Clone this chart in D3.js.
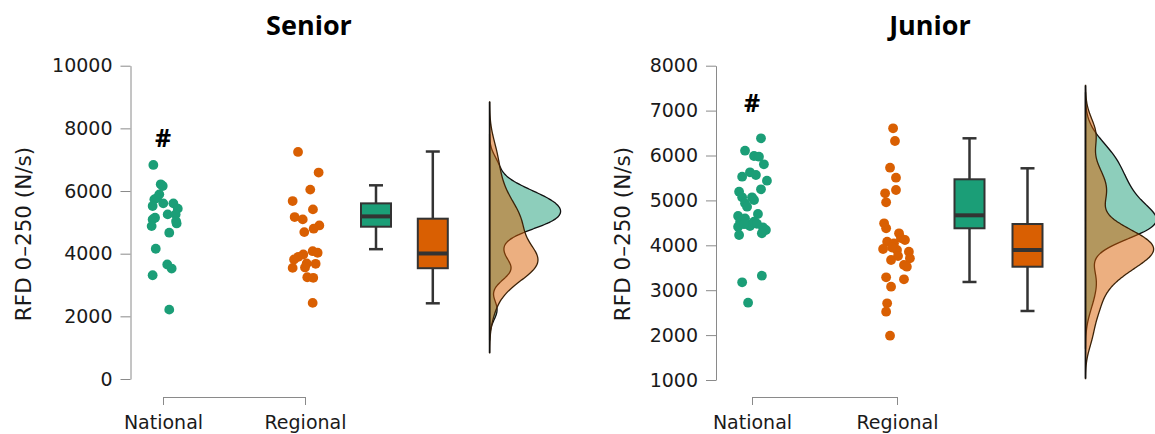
<!DOCTYPE html>
<html>
<head>
<meta charset="utf-8">
<script src="https://cdn.jsdelivr.net/npm/d3@7"></script>
<style>
  body { margin: 0; background: #fff; }
  text { font-family: "DejaVu Sans", sans-serif; }
</style>
</head>
<body>
<div id="chart"></div>
<script>
// SVG area
var svgWidth = 1155;
var svgHeight = 434;

var groups = ["National", "Regional"];
var colors = ["#1b9e77", "#d95f02"];

// Senior - RFD 0-250 (N/s) per athlete, with horizontal jitter (category units)
var seniorNational = [6832, 6214, 6160, 5894, 5734, 5780, 5606, 5606, 5520, 5437, 5254, 5254,
  5149, 5094, 4966, 4880, 4669, 4157, 3654, 3526, 3312, 2214, 5040];
var seniorNationalJitter = [-0.068, -0.016, -0.002, -0.026, -0.061, -0.042, 0.002, 0.073, -0.073, 0.104, 0.033, 0.089,
  -0.056, -0.073, 0.096, -0.080, 0.044, -0.051, 0.030, 0.061, -0.073, 0.044, 0.092];
var seniorRegional = [7248, 6589, 6045, 5680, 5414, 5168, 5094, 4902, 4797, 4688, 4080,
  4029, 3974, 3901, 3814, 3686, 3677, 3546, 3560, 3248, 3229, 2429];
var seniorRegionalJitter = [-0.049, 0.096, 0.037, -0.087, 0.056, -0.073, -0.016, 0.101, 0.061, -0.005, 0.054,
  0.089, -0.012, -0.047, -0.077, 0.012, 0.075, -0.087, 0.000, 0.016, 0.058, 0.054];

// Junior
var juniorNational = [6383, 6107, 5989, 5973, 5804, 5626, 5566, 5528, 5439, 5247, 5194, 5069, 5069,
  5009, 4935, 4860, 4697, 4653, 4526, 4474, 4430, 4526, 4414, 4401, 4341, 4229, 4267,
  3323, 3176, 2722, 4600, 4480, 4470];
var juniorNationalJitter = [0.062, -0.048, 0.014, 0.048, 0.082, -0.014, 0.027, -0.068, 0.103, 0.062, -0.089, -0.068, 0.000,
  0.014, -0.048, -0.034, 0.041, -0.096, -0.082, -0.034, -0.014, 0.014, -0.096, 0.075, 0.096, -0.089, 0.068,
  0.068, -0.068, -0.027, -0.048, 0.034, -0.055];
var juniorRegional = [6606, 6323, 5728, 5506, 5232, 5158, 4958, 4490, 4379, 4267, 4118, 4080, 4045, 3918,
  3895, 3857, 3710, 3673, 3760, 3561, 3523, 3287, 3078, 3243, 2708, 2521, 1987, 3950, 4160];
var juniorRegionalJitter = [-0.027, -0.014, -0.048, -0.007, -0.007, -0.082, -0.075, -0.089, -0.075, 0.014, 0.055, -0.068, -0.021, -0.096,
  0.000, 0.082, 0.089, -0.041, 0.007, 0.048, 0.068, -0.075, -0.041, 0.048, -0.068, -0.075, -0.048, -0.034, 0.027];

// Box plot stats: [lower whisker, Q1, median, Q3, upper whisker]
var seniorBoxNational = [4144, 4861, 5190, 5606, 6182];
var seniorBoxRegional = [2416, 3536, 4006, 5117, 7261];
var juniorBoxNational = [3183, 4379, 4668, 5470, 6383];
var juniorBoxRegional = [2537, 3523, 3895, 4474, 5715];

var seniorTicks = [0, 2000, 4000, 6000, 8000, 10000];
var juniorTicks = [1000, 2000, 3000, 4000, 5000, 6000, 7000, 8000];

var yTitle = "RFD 0\u2013250 (N/s)";

var panels = [
  {
    title: "Senior", titleX: 309,
    axisX: 130.5, yTitleX: 23,
    xRange: [163, 305],
    yDomain: [0, 10000], yRange: [379, 65.7], ticks: seniorTicks,
    series: [[seniorNational, seniorNationalJitter], [seniorRegional, seniorRegionalJitter]],
    boxes: [seniorBoxNational, seniorBoxRegional],
    mark: 7700
  },
  {
    title: "Junior", titleX: 930,
    axisX: 716, yTitleX: 622,
    xRange: [752, 897],
    yDomain: [1000, 8000], yRange: [380, 65.7], ticks: juniorTicks,
    series: [[juniorNational, juniorNationalJitter], [juniorRegional, juniorRegionalJitter]],
    boxes: [juniorBoxNational, juniorBoxRegional],
    mark: 7170
  }
];

// slot positions (category units) for boxes and half violin
var boxSlots = [1.5, 1.9];
var violinSlot = 2.3;
var boxWidth = 30;
var capWidth = 14;
var violinMaxWidth = 71;

var svg = d3.select("#chart")
  .append("svg")
  .attr("width", svgWidth)
  .attr("height", svgHeight);

// R style bw.nrd0
function bandwidth(values) {
  var s = values.slice().sort(d3.ascending);
  var sd = d3.deviation(s);
  var iqr = d3.quantile(s, 0.75) - d3.quantile(s, 0.25);
  var lo = Math.min(sd, iqr / 1.34);
  return 0.9 * lo * Math.pow(s.length, -0.2);
}

function kde(values) {
  var bw = bandwidth(values);
  var lo = d3.min(values) - 3 * bw;
  var hi = d3.max(values) + 3 * bw;
  var n = 256;
  var out = [];
  for (var i = 0; i <= n; i++) {
    var t = lo + (hi - lo) * i / n;
    var sum = 0;
    values.forEach(function(v) {
      var z = (t - v) / bw;
      sum += Math.exp(-0.5 * z * z);
    });
    out.push([t, sum / (values.length * bw * Math.sqrt(2 * Math.PI))]);
  }
  return out;
}

panels.forEach(function(p) {
  var g = svg.append("g");

  var x = d3.scaleLinear().domain([0, 1]).range(p.xRange);
  var y = d3.scaleLinear().domain(p.yDomain).range(p.yRange);

  // title
  g.append("text")
    .attr("x", p.titleX)
    .attr("y", 35)
    .attr("text-anchor", "middle")
    .style("font-family", "'Open Sans', sans-serif")
    .style("font-weight", "bold")
    .style("font-size", "27px")
    .attr("fill", "#000")
    .text(p.title);

  // y axis
  var leftAxis = d3.axisLeft(y)
    .tickValues(p.ticks)
    .tickFormat(d3.format("d"))
    .tickSize(10)
    .tickSizeOuter(0)
    .tickPadding(8);
  var ya = g.append("g")
    .attr("transform", `translate(${p.axisX}, 0)`)
    .call(leftAxis);
  ya.select(".domain").attr("stroke", "#8a8a8a");
  ya.selectAll(".tick line").attr("stroke", "#8a8a8a");
  ya.selectAll(".tick text")
    .attr("fill", "#1a1a1a")
    .style("font-size", "19px");

  g.append("text")
    .attr("transform", `translate(${p.yTitleX}, 234) rotate(-90)`)
    .attr("text-anchor", "middle")
    .attr("dy", "0.36em")
    .attr("fill", "#1a1a1a")
    .style("font-size", "21.5px")
    .text(yTitle);

  // x axis bracket
  var bottomAxis = d3.axisBottom(x)
    .tickValues([0, 1])
    .tickFormat(function(d) { return groups[d]; })
    .tickSize(8)
    .tickSizeOuter(0)
    .tickPadding(11);
  var xa = g.append("g")
    .attr("transform", "translate(0, 397)")
    .call(bottomAxis);
  xa.select(".domain").attr("stroke", "#8a8a8a");
  xa.selectAll(".tick line").attr("stroke", "#8a8a8a");
  xa.selectAll(".tick text")
    .attr("fill", "#1a1a1a")
    .style("font-size", "19px");

  // half violins
  var dens = p.series.map(function(s) { return kde(s[0]); });
  var maxD = d3.max(dens, function(d) { return d3.max(d, function(e) { return e[1]; }); });
  var w = d3.scaleLinear().domain([0, maxD]).range([0, violinMaxWidth]);
  var base = x(violinSlot);
  var area = d3.area()
    .curve(d3.curveBasis)
    .y(function(d) { return y(d[0]); })
    .x0(base)
    .x1(function(d) { return base + w(d[1]); });

  dens.forEach(function(d, i) {
    g.append("path")
      .datum(d)
      .attr("d", area)
      .attr("fill", colors[i])
      .attr("fill-opacity", 0.5)
      .attr("stroke", i === 0 ? "#111" : "#3b2208")
      .attr("stroke-width", 1.3);
  });
  var lo = d3.min(dens, function(d) { return d[0][0]; });
  var hi = d3.max(dens, function(d) { return d[d.length - 1][0]; });
  g.append("line")
    .attr("x1", base).attr("x2", base)
    .attr("y1", y(lo)).attr("y2", y(hi))
    .attr("stroke", "#111")
    .attr("stroke-width", 1.6);

  // box plots
  p.boxes.forEach(function(b, i) {
    var cx = x(boxSlots[i]);
    var bg = g.append("g");
    bg.append("line")
      .attr("x1", cx).attr("x2", cx)
      .attr("y1", y(b[0])).attr("y2", y(b[4]))
      .attr("stroke", "#333").attr("stroke-width", 2.5);
    [b[0], b[4]].forEach(function(v) {
      bg.append("line")
        .attr("x1", cx - capWidth / 2).attr("x2", cx + capWidth / 2)
        .attr("y1", y(v)).attr("y2", y(v))
        .attr("stroke", "#333").attr("stroke-width", 2.5);
    });
    bg.append("rect")
      .attr("x", cx - boxWidth / 2)
      .attr("width", boxWidth)
      .attr("y", y(b[3]))
      .attr("height", y(b[1]) - y(b[3]))
      .attr("fill", colors[i])
      .attr("stroke", "#333")
      .attr("stroke-width", 2);
    bg.append("line")
      .attr("x1", cx - boxWidth / 2).attr("x2", cx + boxWidth / 2)
      .attr("y1", y(b[2])).attr("y2", y(b[2]))
      .attr("stroke", "#333").attr("stroke-width", 4);
  });

  // jittered points
  p.series.forEach(function(s, i) {
    g.append("g").selectAll("circle")
      .data(s[0])
      .enter()
      .append("circle")
      .attr("cx", function(d, j) { return x(i + s[1][j]); })
      .attr("cy", function(d) { return y(d); })
      .attr("r", 4.9)
      .attr("fill", colors[i]);
  });

  // significance mark
  g.append("text")
    .attr("x", x(0))
    .attr("y", y(p.mark))
    .attr("dy", "0.36em")
    .attr("text-anchor", "middle")
    .style("font-family", "'Open Sans', sans-serif")
    .style("font-weight", "bold")
    .style("font-size", "25px")
    .attr("fill", "#000")
    .text("#");
});
</script>
</body>
</html>
